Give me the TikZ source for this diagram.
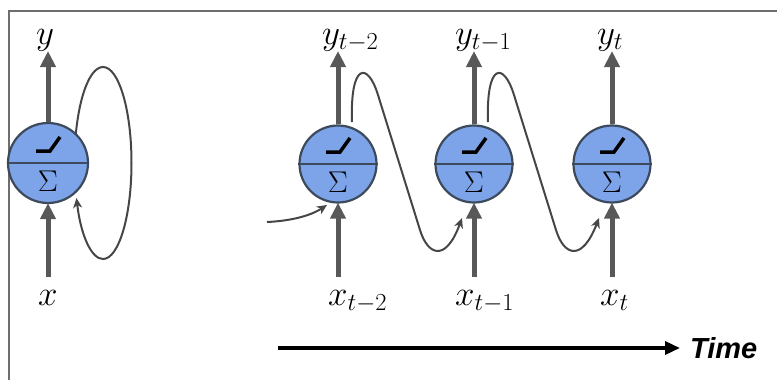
\RequirePackage{fix-cm}
\documentclass[tikz,border=0pt]{standalone}
\usepackage{fontspec}
\newfontfamily\timefont{Liberation Sans}
\usetikzlibrary{arrows.meta}
\definecolor{cellfill}{RGB}{125,164,233}
\definecolor{celledge}{RGB}{60,74,92}
\definecolor{thick}{RGB}{88,88,88}
\definecolor{thinc}{RGB}{70,70,70}
\definecolor{framec}{RGB}{110,110,110}
\tikzset{
  cell/.style={circle, draw=celledge, fill=cellfill, line width=2.2pt, minimum size=#1, inner sep=0pt},
  flow/.style={draw=thick, line width=5pt, -{Triangle[length=16pt,width=15pt]}, shorten >=-1pt},
  recur/.style={draw=thinc, line width=2pt, -{Stealth[length=10pt,width=9pt,inset=3pt]}},
  lbl/.style={inner sep=0pt, anchor=base west, font=\fontsize{35}{40}\selectfont},
  sig/.style={inner sep=0pt, font=\fontsize{30}{34}\selectfont},
  relu/.style={line width=3.5pt, black, line join=miter},
}
\newcommand{\cellparts}[3]{% name, cx, cy
  \draw[celledge, line width=2.2pt] (#1.west) -- (#1.east);
  \node[sig] (#1s) at (#2,#3+18) {$\Sigma$};
  \draw[relu] (#2-12,#3-12) -- (#2+2,#3-12) -- (#2+12,#3-26);
}
\begin{document}
\begin{tikzpicture}[x=1pt,y=-1pt]
\useasboundingbox (0,0) rectangle (777,380);
\draw[framec, line width=1.5pt] (9,380) -- (9,11) -- (777,11);

% left folded cell
\coordinate (loopstart) at (74.5,163);
\draw[recur] (loopstart) arc[start angle=180, end angle=-158.6, x radius=28.5pt, y radius=96pt];
\node[cell=80pt] (c1) at (48,163) {};
\cellparts{c1}{48}{163}
\coordinate (i1) at (48,277);
\coordinate (o1) at (48,52);
\draw[flow] (i1) -- (c1.south);
\draw[flow] (c1.north) -- (o1);
\node[lbl] (y1) at (36,44) {$y$};
\node[lbl] (x1) at (38,305) {$x$};

% unrolled cells
\coordinate (a1) at (352,122);
\coordinate (b1) at (462,218);
\coordinate (a2) at (488,122);
\coordinate (b2) at (599,218);
\coordinate (s0) at (267,222);
\coordinate (t0) at (327,205);
\draw[recur] (a1) .. controls (350,62) and (368,62) .. (378,95) -- (420,230) .. controls (428,256) and (446,262) .. (b1);
\draw[recur] (a2) .. controls (486,62) and (504,62) .. (514,95) -- (556,230) .. controls (564,256) and (582,262) .. (b2);
\draw[recur] (s0) .. controls (290,221) and (310,216) .. (t0);

\foreach \n/\cx in {c2/338, c3/474, c4/612}{
  \node[cell=77pt] (\n) at (\cx,164) {};
  \cellparts{\n}{\cx}{164}
  \coordinate (\n i) at (\cx,277);
  \coordinate (\n o) at (\cx,52);
  \draw[flow] (\n i) -- (\n.south);
  \draw[flow] (\n.north) -- (\n o);
}
\node[lbl] (y2) at (322,44) {$y_{t-2}$};
\node[lbl] (y3) at (455,44) {$y_{t-1}$};
\node[lbl] (y4) at (597,44) {$y_t$};
\node[lbl] (x2) at (328,305) {$x_{t-2}$};
\node[lbl] (x3) at (455,305) {$x_{t-1}$};
\node[lbl] (x4) at (600,305) {$x_t$};

% time axis
\coordinate (ts) at (278,348);
\node[inner sep=0pt, anchor=west, font=\timefont\bfseries\itshape\fontsize{29}{34}\selectfont] (time) at (690,348) {Time};
\draw[black, line width=3.5pt, -{Triangle[length=15pt,width=13pt]}] (ts) -- ([xshift=-10pt]time.west);
\end{tikzpicture}
\end{document}
